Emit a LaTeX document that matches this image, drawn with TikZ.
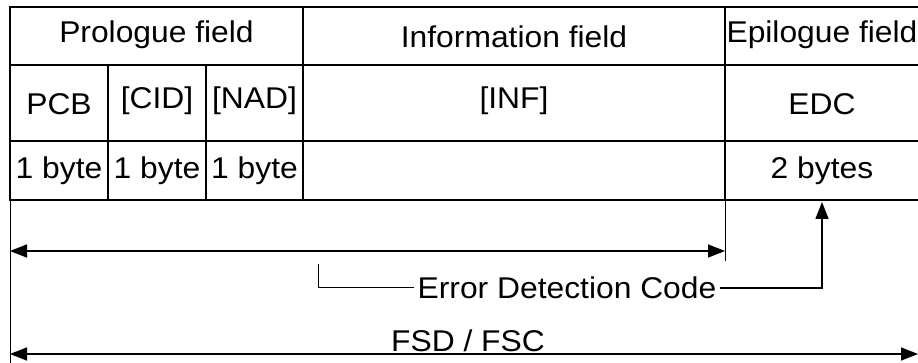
\documentclass[tikz,border=0pt]{standalone}
\usepackage{fontspec}
\setmainfont{Liberation Sans}[FakeStretch=1.06]
\usetikzlibrary{arrows.meta}

\begin{document}
\begin{tikzpicture}[x=1pt,y=-1pt,>={Triangle[length=17pt,width=13pt]},
    font=\fontsize{30}{35}\selectfont,
    grid/.style={line width=2pt},
    dim/.style={line width=1.5pt},
    guide/.style={line width=1pt}]
  \useasboundingbox (0,0) rectangle (918,363);
  % frame
  \draw[grid] (10,7) rectangle (920,200);
  \draw[grid] (10,65) -- (920,65) (10,141) -- (920,141);
  \draw[grid] (303,7) -- (303,200) (725,7) -- (725,200);
  \draw[grid] (108,65) -- (108,200) (206,65) -- (206,200);
  % field names
  \node (pro) at (156.5,35) {Prologue field};
  \node (inf) at (514,37) {Information field};
  \node (epi) at (822,35) {Epilogue field};
  \node (pcb) at (59,104) {PCB};
  \node (cid) at (157,101) {[CID]};
  \node (nad) at (254.5,101) {[NAD]};
  \node (infb) at (514,101) {[INF]};
  \node (edc) at (822,104) {EDC};
  \node (pcbn) at (59,170.5) {1 byte};
  \node (cidn) at (157,170.5) {1 byte};
  \node (nadn) at (254.5,170.5) {1 byte};
  \node (edcn) at (822,170.5) {2 bytes};
  % lengths
  \coordinate (lft) at (10,200);
  \coordinate (lfb) at (10,363);
  \coordinate (mid) at (725,200);
  \coordinate (midb) at (725,261);
  \draw[guide] (lft) -- (lfb);
  \draw[guide] (mid) -- (midb);
  \coordinate (a1) at (10,251);
  \coordinate (b1) at (725,251);
  \draw[dim,<->] (a1) -- (b1);
  \node[inner sep=3pt] (code) at (567,288) {Error Detection Code};
  \coordinate (brk) at (318,264);
  \coordinate (up) at (822,202);
  \draw[guide] (brk) |- (code.west);
  \draw[dim,->] (code.east) -| (up);
  \node (fsd) at (468,341) {FSD / FSC};
  \coordinate (a2) at (10,354);
  \coordinate (b2) at (918,354);
  \draw[dim,<->] (a2) -- (b2);
\end{tikzpicture}
\end{document}
